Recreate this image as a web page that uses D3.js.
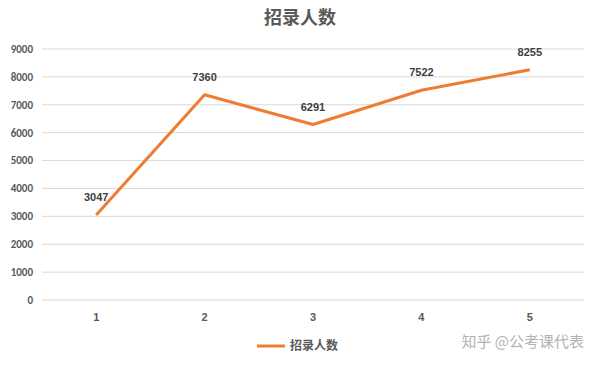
<!DOCTYPE html>
<html>
<head>
<meta charset="utf-8">
<script src="https://cdn.jsdelivr.net/npm/d3@7/dist/d3.min.js"></script>
<style>
  body { margin: 0; background: #fff; }
  svg { display: block; font-family: "Microsoft YaHei", "Noto Sans CJK SC", sans-serif; }
</style>
</head>
<body>
<svg id="chart" width="600" height="365"></svg>
<script>
var categories = ['1', '2', '3', '4', '5'];
var values = [3047, 7360, 6291, 7522, 8255];
var yTicks = [0, 1000, 2000, 3000, 4000, 5000, 6000, 7000, 8000, 9000];
var seriesName = '招录人数';

var svg = d3.select('#chart');
var margin = { top: 49, right: 16, bottom: 65, left: 42 };
var width = 600 - margin.left - margin.right;
var height = 365 - margin.top - margin.bottom;

var x = d3.scalePoint().domain(categories).range([0, width]).padding(0.5);
var y = d3.scaleLinear().domain([0, 9000]).range([height, 0]);

svg.append('text')
  .attr('x', 300).attr('y', 24)
  .attr('text-anchor', 'middle')
  .attr('font-size', 18).attr('font-weight', 'bold')
  .attr('fill', '#595959')
  .text(seriesName);

var g = svg.append('g').attr('transform', 'translate(' + margin.left + ',' + margin.top + ')');

// grid lines
g.selectAll('.grid').data(yTicks).enter().append('line')
  .attr('x1', 0).attr('x2', width)
  .attr('y1', function(d) { return y(d); })
  .attr('y2', function(d) { return y(d); })
  .attr('stroke', '#d9d9d9').attr('stroke-width', 1);

// y labels
g.selectAll('.ylab').data(yTicks).enter().append('text')
  .attr('x', -9).attr('y', function(d) { return y(d); })
  .attr('dy', '0.35em')
  .attr('text-anchor', 'end')
  .attr('font-size', 11).attr('font-weight', 'bold')
  .attr('fill', '#595959')
  .style('font-family', 'Calibri, Carlito, "Liberation Sans", sans-serif')
  .text(function(d) { return d; });

// x labels
g.selectAll('.xlab').data(categories).enter().append('text')
  .attr('x', function(d) { return x(d); }).attr('y', height + 21)
  .attr('text-anchor', 'middle')
  .attr('font-size', 11).attr('font-weight', 'bold')
  .attr('fill', '#595959')
  .style('font-family', '"Liberation Sans", sans-serif')
  .text(function(d) { return d; });

var line = d3.line()
  .x(function(d, i) { return x(categories[i]); })
  .y(function(d) { return y(d); });

g.append('path').datum(values)
  .attr('d', line)
  .attr('fill', 'none')
  .attr('stroke', '#ed7d31').attr('stroke-width', 3)
  .attr('stroke-linejoin', 'round');

g.selectAll('.vlab').data(values).enter().append('text')
  .attr('x', function(d, i) { return x(categories[i]); })
  .attr('y', function(d) { return y(d) - 14; })
  .attr('text-anchor', 'middle')
  .attr('font-size', 11).attr('font-weight', 'bold')
  .attr('fill', '#404040')
  .style('font-family', '"Liberation Sans", sans-serif')
  .text(function(d) { return d; });

// legend
var legend = svg.append('g').attr('transform', 'translate(257,346)');
legend.append('line').attr('x1', 0).attr('x2', 28).attr('y1', 0).attr('y2', 0)
  .attr('stroke', '#ed7d31').attr('stroke-width', 3);
legend.append('text').attr('x', 33).attr('y', 0).attr('dy', '0.35em')
  .attr('font-size', 12).attr('font-weight', 'bold').attr('fill', '#595959')
  .text(seriesName);

// watermark
svg.append('text')
  .attr('x', 584).attr('y', 342).attr('dy', '0.35em')
  .attr('text-anchor', 'end')
  .attr('font-size', 15).attr('fill', '#b3b3b3')
  .text('知乎 @公考课代表');
</script>
</body>
</html>
